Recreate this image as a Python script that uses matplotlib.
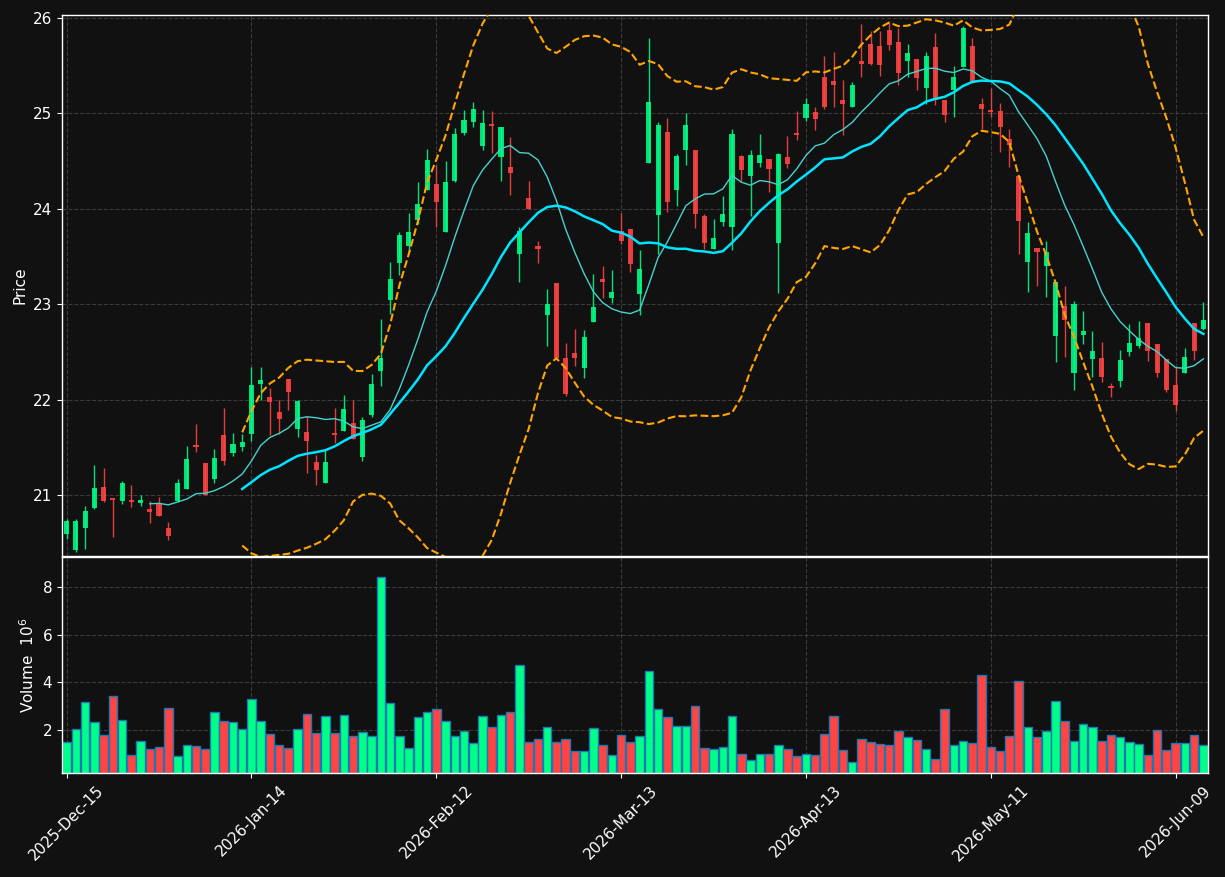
import numpy as np
import pandas as pd
import matplotlib
matplotlib.use('Agg')
import matplotlib.pyplot as plt

# Daily OHLC (one value per trading day)
opens = [20.59, 20.42, 20.65, 20.86, 21.08, 20.96, 20.94, 20.94, 20.92, 20.85,
         20.91, 20.65, 20.94, 21.06, 21.52, 21.33, 21.17, 21.63, 21.44, 21.50,
         21.64, 22.16, 22.03, 21.87, 22.22, 21.69, 21.66, 21.35, 21.12, 21.64,
         21.67, 21.75, 21.40, 21.84, 22.30, 23.04, 23.43, 23.61, 23.88, 24.20,
         24.26, 23.76, 24.29, 24.79, 24.91, 24.66, 24.88, 24.54, 24.44, 23.53,
         24.11, 23.61, 22.89, 23.22, 22.44, 22.49, 22.33, 22.81, 23.26, 23.06,
         23.77, 23.79, 23.11, 24.48, 23.93, 24.80, 24.20, 24.61, 24.62, 23.92,
         23.58, 23.86, 23.81, 24.55, 24.34, 24.48, 24.52, 23.64, 24.54, 24.78,
         24.95, 25.01, 25.38, 25.34, 25.14, 25.07, 25.55, 25.73, 25.71, 25.87,
         25.75, 25.55, 25.57, 25.27, 25.69, 25.14, 25.24, 25.48, 25.71, 25.10,
         25.03, 25.02, 24.73, 24.34, 23.44, 23.59, 23.40, 22.67, 22.98, 22.28,
         22.68, 22.42, 22.44, 22.13, 22.19, 22.50, 22.56, 22.80, 22.58, 22.42,
         22.15, 22.28, 22.80, 22.74]
highs = [20.75, 20.75, 20.88, 21.31, 21.28, 20.96, 21.15, 21.10, 21.00, 20.94,
         20.98, 20.72, 21.17, 21.51, 21.74, 21.33, 21.48, 21.91, 21.65, 21.64,
         22.34, 22.34, 22.12, 22.00, 22.22, 22.00, 21.83, 21.42, 21.48, 21.91,
         22.05, 21.99, 21.82, 22.27, 22.84, 23.44, 23.76, 23.95, 24.28, 24.63,
         24.46, 24.50, 24.85, 25.03, 25.12, 25.03, 25.02, 24.86, 24.75, 23.81,
         24.29, 23.66, 23.16, 23.22, 22.59, 22.74, 22.73, 23.32, 23.40, 23.36,
         23.96, 23.79, 23.57, 25.79, 24.91, 24.95, 24.57, 25.00, 24.62, 23.94,
         23.89, 24.13, 24.84, 24.56, 24.61, 24.78, 24.52, 24.58, 24.76, 25.02,
         25.16, 25.07, 25.60, 25.64, 25.35, 25.33, 25.94, 25.86, 25.86, 25.96,
         25.89, 25.73, 25.57, 25.64, 25.84, 25.14, 25.50, 25.91, 25.79, 25.16,
         25.27, 25.11, 24.84, 24.34, 23.86, 23.59, 23.66, 23.23, 23.19, 23.03,
         22.93, 22.72, 22.60, 22.17, 22.52, 22.79, 22.82, 22.80, 22.58, 22.42,
         22.35, 22.54, 22.80, 23.02]
lows = [20.54, 20.40, 20.43, 20.85, 20.93, 20.56, 20.90, 20.87, 20.88, 20.71,
        20.78, 20.53, 20.93, 21.06, 21.45, 21.00, 21.12, 21.31, 21.41, 21.46,
        21.57, 21.99, 21.63, 21.64, 21.89, 21.61, 21.23, 21.10, 21.12, 21.54,
        21.67, 21.59, 21.36, 21.82, 22.14, 22.90, 23.31, 23.55, 23.84, 24.20,
        23.81, 23.76, 24.28, 24.77, 24.86, 24.61, 24.58, 24.29, 24.14, 23.23,
        24.00, 23.43, 22.56, 22.42, 22.04, 22.35, 22.23, 22.81, 23.06, 23.01,
        23.63, 23.34, 22.89, 24.48, 23.52, 23.97, 24.03, 24.46, 23.80, 23.58,
        23.58, 23.82, 23.57, 24.29, 23.92, 24.44, 24.17, 23.12, 24.43, 24.72,
        24.92, 24.82, 25.05, 25.07, 24.77, 25.07, 25.38, 25.51, 25.39, 25.66,
        25.30, 25.38, 25.24, 25.10, 25.09, 24.91, 24.96, 25.48, 25.32, 24.84,
        24.96, 24.59, 24.44, 23.53, 23.13, 23.19, 23.07, 22.39, 22.45, 22.10,
        22.58, 22.24, 22.18, 22.03, 22.13, 22.46, 22.54, 22.40, 22.24, 22.08,
        21.88, 22.28, 22.41, 22.73]
closes = [20.73, 20.73, 20.83, 21.07, 20.94, 20.95, 21.12, 20.93, 20.95, 20.82,
          20.78, 20.57, 21.13, 21.38, 21.50, 21.00, 21.39, 21.36, 21.53, 21.55,
          22.15, 22.20, 21.97, 21.80, 22.08, 21.98, 21.57, 21.26, 21.35, 21.63,
          21.90, 21.59, 21.79, 22.16, 22.43, 23.26, 23.72, 23.76, 24.05, 24.51,
          24.07, 24.28, 24.78, 24.93, 25.05, 24.90, 24.87, 24.86, 24.37, 23.77,
          24.00, 23.58, 23.00, 22.44, 22.06, 22.44, 22.66, 22.97, 23.23, 23.13,
          23.66, 23.42, 23.37, 25.12, 24.88, 24.07, 24.55, 24.88, 23.94, 23.64,
          23.69, 23.94, 24.78, 24.41, 24.56, 24.56, 24.42, 24.57, 24.47, 24.77,
          25.10, 24.94, 25.07, 25.30, 25.10, 25.30, 25.52, 25.52, 25.51, 25.72,
          25.42, 25.63, 25.37, 25.60, 25.14, 24.98, 25.38, 25.89, 25.32, 25.04,
          25.01, 24.86, 24.67, 23.87, 23.75, 23.55, 23.55, 23.23, 22.83, 23.00,
          22.72, 22.51, 22.24, 22.12, 22.41, 22.59, 22.64, 22.51, 22.28, 22.10,
          21.94, 22.45, 22.51, 22.83]
# volume in millions of shares
volumes = [1.50, 2.03, 3.19, 2.32, 1.79, 3.42, 2.44, 0.96, 1.53, 1.21,
           1.28, 2.92, 0.90, 1.38, 1.33, 1.21, 2.75, 2.38, 2.32, 2.03,
           3.29, 2.38, 1.83, 1.38, 1.25, 2.03, 2.67, 1.88, 2.58, 1.88,
           2.63, 1.75, 1.92, 1.75, 8.42, 3.13, 1.75, 1.25, 2.54, 2.75,
           2.88, 2.38, 1.75, 1.96, 1.47, 2.58, 2.13, 2.63, 2.75, 4.75,
           1.50, 1.63, 2.13, 1.50, 1.63, 1.13, 1.13, 2.08, 1.38, 0.96,
           1.79, 1.50, 1.75, 4.46, 2.88, 2.54, 2.17, 2.17, 3.00, 1.25,
           1.21, 1.29, 2.58, 1.00, 0.75, 1.00, 1.00, 1.38, 1.21, 0.92,
           1.00, 0.96, 1.83, 2.58, 1.17, 0.67, 1.63, 1.50, 1.42, 1.38,
           1.96, 1.71, 1.58, 1.21, 0.79, 2.88, 1.38, 1.54, 1.46, 4.33,
           1.29, 1.13, 1.75, 4.08, 2.13, 1.71, 1.96, 3.21, 2.38, 1.54,
           2.25, 2.13, 1.54, 1.79, 1.71, 1.50, 1.42, 0.96, 2.00, 1.17,
           1.46, 1.46, 1.79, 1.38]

# NYSE trading days
holidays = ['2025-12-25', '2026-01-01', '2026-01-19', '2026-02-16', '2026-04-03', '2026-05-25']
dates = pd.bdate_range('2025-12-15', '2026-06-12', freq='C', holidays=holidays)

df = pd.DataFrame({'Open': opens, 'High': highs, 'Low': lows, 'Close': closes,
                   'Volume': volumes}, index=dates)

# indicators
df['MA10'] = df['Close'].rolling(10).mean()
df['MA20'] = df['Close'].rolling(20).mean()
std20 = df['Close'].rolling(20).std()
df['BB_up'] = df['MA20'] + 2 * std20
df['BB_low'] = df['MA20'] - 2 * std20

BG = '#111111'
UP = '#00ff88'
DOWN = '#ff4444'

x = np.arange(len(df))
colors = np.where(df['Close'] >= df['Open'], UP, DOWN)

fig = plt.figure(figsize=(12.25, 8.77), dpi=100, facecolor=BG)
ax1 = fig.add_axes([62/1225, 1 - 556/877, 1146/1225, 541/877])
ax2 = fig.add_axes([62/1225, 1 - 773/877, 1146/1225, 216/877], sharex=ax1)

# candles
ax1.vlines(x, df['Low'], df['High'], colors=colors, linewidth=1, alpha=0.88, zorder=3)
body_low = np.minimum(df['Open'], df['Close'])
body_h = np.maximum((df['Close'] - df['Open']).abs(), 0.02)
ax1.bar(x, body_h, bottom=body_low, width=0.55, color=colors, linewidth=0, alpha=0.88, zorder=3)

# moving averages and bands
ax1.plot(x, df['MA10'], color='#48d1cc', linewidth=1.0, zorder=4)
ax1.plot(x, df['MA20'], color='#00e5ff', linewidth=1.8, zorder=4)
ax1.plot(x, df['BB_up'], color='#ffa500', linestyle='--', linewidth=1.5, zorder=4)
ax1.plot(x, df['BB_low'], color='#ffa500', linestyle='--', linewidth=1.5, zorder=4)

# volume
ax2.bar(x, df['Volume'], width=0.92, color=colors, edgecolor='#1f77b4', linewidth=1)

ax1.set_ylim(20.36, 26.03)
ax2.set_ylim(0.3 * df['Volume'].min(), 1.1 * df['Volume'].max())
ax1.set_xlim(-0.5, len(df) - 0.5)

tick_pos = list(range(0, len(df), 20))
ax2.set_xticks(tick_pos)
ax2.set_xticklabels([dates[i].strftime('%Y-%b-%d') for i in tick_pos], rotation=45)
ax1.set_yticks([21, 22, 23, 24, 25, 26])
ax2.set_yticks([2, 4, 6, 8])

ax1.set_ylabel('Price', color='white', fontsize=11)
ax2.set_ylabel('Volume  $10^{6}$', color='white', fontsize=11)

for ax in (ax1, ax2):
    ax.set_facecolor(BG)
    ax.grid(True, linestyle='--', color='#3a3a3a', linewidth=0.8)
    ax.set_axisbelow(True)
    ax.tick_params(colors='white', labelsize=11)
    for s in ax.spines.values():
        s.set_color('white')
        s.set_linewidth(1)
ax1.tick_params(labelbottom=False)

fig.savefig('out.png', dpi=100, facecolor=BG)
